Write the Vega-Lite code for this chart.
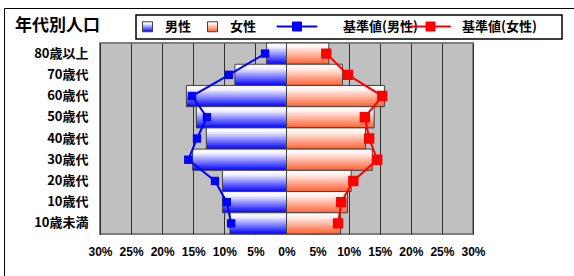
{
  "$schema": "https://vega.github.io/schema/vega-lite/v6.json",
  "width": 373,
  "height": 191,
  "autosize": {"type": "none"},
  "padding": {"left": 100, "top": 43, "right": 101, "bottom": 42},
  "background": "#ffffff",
  "title": {
    "text": "年代別人口",
    "anchor": "start",
    "orient": "top",
    "frame": "group",
    "dx": -85,
    "dy": 37,
    "offset": 8,
    "font": "Noto Sans CJK JP",
    "fontSize": 17,
    "fontWeight": "bold",
    "color": "#000000"
  },
  "config": {
    "view": {"fill": "#c0c0c0", "stroke": "#808080", "strokeWidth": 2},
    "font": "Noto Sans CJK JP"
  },
  "data": {
    "values": [
      {"age": "80歳以上", "rank": 9, "series": "男性", "value": -3.2},
      {"age": "70歳代", "rank": 8, "series": "男性", "value": -8.3},
      {"age": "60歳代", "rank": 7, "series": "男性", "value": -16.1},
      {"age": "50歳代", "rank": 6, "series": "男性", "value": -14.5},
      {"age": "40歳代", "rank": 5, "series": "男性", "value": -12.9},
      {"age": "30歳代", "rank": 4, "series": "男性", "value": -15.1},
      {"age": "20歳代", "rank": 3, "series": "男性", "value": -10.3},
      {"age": "10歳代", "rank": 2, "series": "男性", "value": -10.3},
      {"age": "10歳未満", "rank": 1, "series": "男性", "value": -9.1},
      {"age": "80歳以上", "rank": 9, "series": "女性", "value": 6.8},
      {"age": "70歳代", "rank": 8, "series": "女性", "value": 9.0},
      {"age": "60歳代", "rank": 7, "series": "女性", "value": 15.75},
      {"age": "50歳代", "rank": 6, "series": "女性", "value": 14.1},
      {"age": "40歳代", "rank": 5, "series": "女性", "value": 12.7},
      {"age": "30歳代", "rank": 4, "series": "女性", "value": 13.8},
      {"age": "20歳代", "rank": 3, "series": "女性", "value": 10.4},
      {"age": "10歳代", "rank": 2, "series": "女性", "value": 9.8},
      {"age": "10歳未満", "rank": 1, "series": "女性", "value": 8.7},
      {"age": "80歳以上", "rank": 9, "series": "基準値(男性)", "value": -3.45},
      {"age": "70歳代", "rank": 8, "series": "基準値(男性)", "value": -9.25},
      {"age": "60歳代", "rank": 7, "series": "基準値(男性)", "value": -15.2},
      {"age": "50歳代", "rank": 6, "series": "基準値(男性)", "value": -12.8},
      {"age": "40歳代", "rank": 5, "series": "基準値(男性)", "value": -14.4},
      {"age": "30歳代", "rank": 4, "series": "基準値(男性)", "value": -15.8},
      {"age": "20歳代", "rank": 3, "series": "基準値(男性)", "value": -11.5},
      {"age": "10歳代", "rank": 2, "series": "基準値(男性)", "value": -9.6},
      {"age": "10歳未満", "rank": 1, "series": "基準値(男性)", "value": -8.9},
      {"age": "80歳以上", "rank": 9, "series": "基準値(女性)", "value": 6.4},
      {"age": "70歳代", "rank": 8, "series": "基準値(女性)", "value": 9.9},
      {"age": "60歳代", "rank": 7, "series": "基準値(女性)", "value": 15.4},
      {"age": "50歳代", "rank": 6, "series": "基準値(女性)", "value": 12.6},
      {"age": "40歳代", "rank": 5, "series": "基準値(女性)", "value": 13.3},
      {"age": "30歳代", "rank": 4, "series": "基準値(女性)", "value": 14.6},
      {"age": "20歳代", "rank": 3, "series": "基準値(女性)", "value": 10.75},
      {"age": "10歳代", "rank": 2, "series": "基準値(女性)", "value": 8.8},
      {"age": "10歳未満", "rank": 1, "series": "基準値(女性)", "value": 8.3}
    ]
  },
  "encoding": {
    "y": {
      "field": "age",
      "type": "nominal",
      "sort": ["80歳以上", "70歳代", "60歳代", "50歳代", "40歳代", "30歳代", "20歳代", "10歳代", "10歳未満"],
      "scale": {"paddingInner": 0, "paddingOuter": 0},
      "axis": {
        "title": null,
        "ticks": false,
        "domain": false,
        "grid": false,
        "labelFont": "Noto Sans CJK JP",
        "labelFontSize": 13,
        "labelFontWeight": "bold",
        "labelColor": "#000000",
        "labelPadding": 12
      }
    },
    "x": {
      "field": "value",
      "type": "quantitative",
      "scale": {"domain": [-30, 30], "nice": false, "zero": false},
      "axis": {
        "title": null,
        "values": [-30, -25, -20, -15, -10, -5, 0, 5, 10, 15, 20, 25, 30],
        "labelExpr": "abs(datum.value) + '%'",
        "grid": true,
        "gridColor": "#303030",
        "gridWidth": 1,
        "ticks": false,
        "domain": false,
        "labelFlush": false,
        "labelOverlap": false,
        "labelFont": "Liberation Sans",
        "labelFontSize": 12,
        "labelFontWeight": "bold",
        "labelColor": "#000000",
        "labelPadding": 12
      }
    }
  },
  "layer": [
    {
      "transform": [{"filter": "datum.series === '男性' || datum.series === '女性'"}],
      "mark": {"type": "bar", "stroke": "#404040", "strokeWidth": 1},
      "encoding": {
        "fill": {
          "field": "series",
          "type": "nominal",
          "scale": {
            "domain": ["男性", "女性"],
            "range": [
              {"expr": "{gradient: 'linear', x1: 0, y1: 0, x2: 0, y2: 1, stops: [{offset: 0, color: '#ffffff'}, {offset: 0.2, color: '#f2f2ff'}, {offset: 1, color: '#0000ff'}]}"},
              {"expr": "{gradient: 'linear', x1: 0, y1: 0, x2: 0, y2: 1, stops: [{offset: 0, color: '#ffffff'}, {offset: 0.2, color: '#fff2ee'}, {offset: 1, color: '#ff6030'}]}"}
            ]
          },
          "legend": {
            "orient": "none",
            "legendX": 36,
            "legendY": -28,
            "direction": "horizontal",
            "title": "　",
            "titleOrient": "right",
            "titlePadding": 301,
            "titleFontSize": 13,
            "padding": 5,
            "columnPadding": 13,
            "labelFont": "Noto Sans CJK JP",
            "labelFontSize": 13,
            "labelFontWeight": "bold",
            "labelColor": "#000000",
            "labelOffset": 11,
            "labelLimit": 0,
            "symbolType": "square",
            "symbolSize": 100,
            "symbolStrokeColor": "#404040",
            "symbolStrokeWidth": 1,
            "symbolOpacity": 1,
            "strokeColor": "#000000",
            "encode": {"legend": {"update": {"strokeWidth": {"value": 1.5}}}}
          }
        },
        "opacity": {
          "field": "age",
          "type": "nominal",
          "scale": {"range": [1, 1]},
          "legend": {
            "orient": "none",
            "legendX": -96,
            "legendY": -35,
            "direction": "vertical",
            "title": null,
            "padding": 320,
            "labelExpr": "''",
            "labelOpacity": 0,
            "symbolSize": 0,
            "symbolOpacity": 0,
            "symbolStrokeWidth": 0,
            "strokeColor": "#000000",
            "encode": {"legend": {"update": {"strokeWidth": {"value": 2}}}}
          }
        }
      }
    },
    {
      "transform": [{"filter": "datum.series === '基準値(男性)'"}],
      "mark": {
        "type": "line",
        "strokeWidth": 2,
        "point": {"shape": "square", "size": 70, "filled": true, "opacity": 1}
      },
      "encoding": {
        "order": {"field": "rank", "type": "quantitative"},
        "color": {
          "field": "series",
          "type": "nominal",
          "scale": {"domain": ["基準値(男性)"], "range": ["#0000ff"]},
          "legend": {
            "orient": "none",
            "legendX": 176.5,
            "legendY": -37,
            "direction": "horizontal",
            "title": null,
            "padding": 0,
            "labelFont": "Noto Sans CJK JP",
            "labelFontSize": 13,
            "labelFontWeight": "bold",
            "labelColor": "#000000",
            "labelOffset": 25.5,
            "labelLimit": 0,
            "symbolType": "M-1,-0.025H-0.225V-0.225H0.225V-0.025H1V0.025H0.225V0.225H-0.225V0.025H-1Z",
            "symbolSize": 1600,
            "symbolStrokeWidth": 1,
            "symbolFillColor": "#0000ff",
            "symbolOpacity": 1
          }
        }
      }
    },
    {
      "transform": [{"filter": "datum.series === '基準値(女性)'"}],
      "mark": {
        "type": "line",
        "color": "#ff0000",
        "strokeWidth": 2,
        "point": {"shape": "square", "size": 70, "filled": true, "fill": "#ff0000", "opacity": 1}
      },
      "encoding": {
        "order": {"field": "rank", "type": "quantitative"},
        "stroke": {
          "field": "series",
          "type": "nominal",
          "scale": {"domain": ["基準値(女性)"], "range": ["#ff0000"]},
          "legend": {
            "orient": "none",
            "legendX": 310,
            "legendY": -37,
            "direction": "horizontal",
            "title": null,
            "padding": 0,
            "labelFont": "Noto Sans CJK JP",
            "labelFontSize": 13,
            "labelFontWeight": "bold",
            "labelColor": "#000000",
            "labelOffset": 11,
            "labelLimit": 0,
            "symbolType": "M-1,-0.025H-0.225V-0.225H0.225V-0.025H1V0.025H0.225V0.225H-0.225V0.025H-1Z",
            "symbolSize": 1600,
            "symbolStrokeWidth": 1,
            "symbolFillColor": "#ff0000",
            "symbolOpacity": 1
          }
        }
      }
    }
  ]
}
